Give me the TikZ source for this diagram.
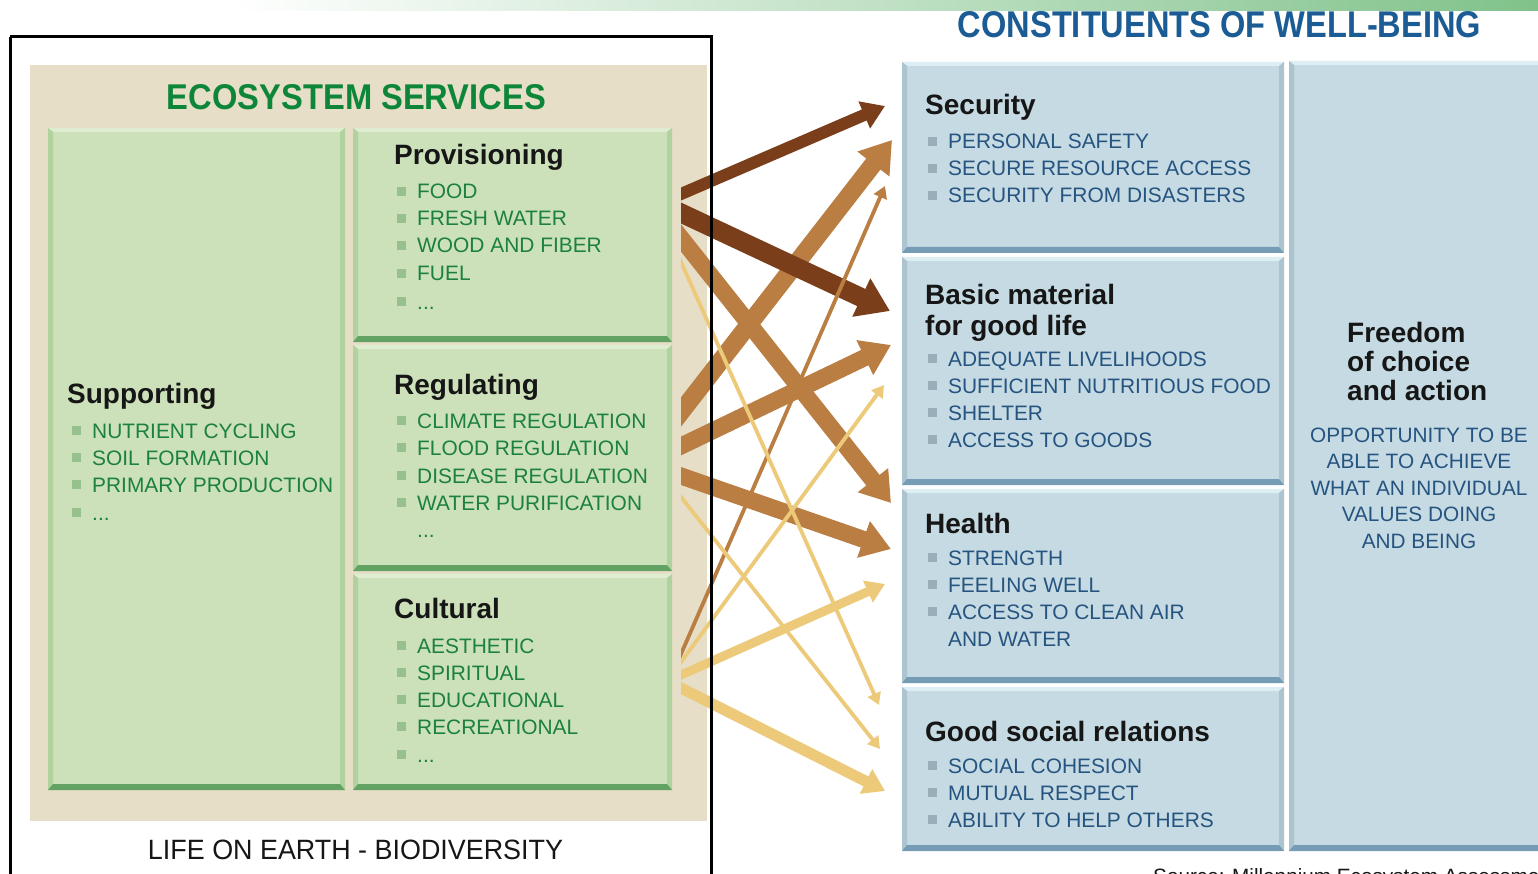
\documentclass[tikz,border=0pt]{standalone}
\usepackage{fontspec}
\setmainfont{Liberation Sans}
\usetikzlibrary{arrows.meta}
\definecolor{stripgreen}{RGB}{128,194,138}
\definecolor{beige}{RGB}{230,222,198}
\definecolor{gfill}{RGB}{204,225,185}
\definecolor{gtop}{RGB}{222,237,208}
\definecolor{gside}{RGB}{176,210,158}
\definecolor{gbot}{RGB}{98,163,100}
\definecolor{gbul}{RGB}{150,193,140}
\definecolor{gtext}{RGB}{28,128,62}
\definecolor{gtitle}{RGB}{14,134,58}
\definecolor{bfill}{RGB}{197,218,226}
\definecolor{btop}{RGB}{222,238,245}
\definecolor{bside}{RGB}{172,196,207}
\definecolor{bbot}{RGB}{118,155,180}
\definecolor{bbul}{RGB}{152,174,184}
\definecolor{btext}{RGB}{38,84,128}
\definecolor{btitle}{RGB}{28,92,148}
\definecolor{hdark}{RGB}{22,22,22}
\definecolor{adark}{RGB}{122,62,26}
\definecolor{amed}{RGB}{186,126,66}
\definecolor{ayel}{RGB}{236,202,122}

\newcommand\bevbox[9]{%
 \fill[#5] (#1,#2) rectangle (#3,#4);
 \fill[#6] (#1,#2) -- (#3,#2) -- ({#3-5},{#2+4}) -- ({#1+5},{#2+4}) -- cycle;
 \fill[#7] (#1,#2) -- ({#1+5},{#2+4}) -- ({#1+5},{#4-6}) -- (#1,#4) -- cycle;
 \fill[#7] (#3,#2) -- ({#3-5},{#2+4}) -- ({#3-5},{#4-6}) -- (#3,#4) -- cycle;
 \fill[#8] (#1,#4) -- ({#1+5},{#4-6}) -- ({#3-5},{#4-6}) -- (#3,#4) -- cycle;
 \coordinate (#9) at ({(#1+#3)/2},{(#2+#4)/2});
}
\newcommand\gitm[4]{%
 \fill[gbul] ({#2-20},{#3-12}) rectangle ++(9,9);
 \node[gitem] (#1) at (#2,#3) {#4};}
\newcommand\bitm[4]{%
 \fill[bbul] ({#2-20},{#3-12}) rectangle ++(9,9);
 \node[bitem] (#1) at (#2,#3) {#4};}

\begin{document}
\begin{tikzpicture}[x=1pt,y=-1pt,
  hd/.style={anchor=base west,inner sep=0pt,text=hdark,font=\fontsize{28}{30}\bfseries},
  gitem/.style={anchor=base west,inner sep=0pt,text=gtext,font=\fontsize{20.9}{24}\selectfont},
  bitem/.style={anchor=base west,inner sep=0pt,text=btext,font=\fontsize{20.9}{24}\selectfont},
  bctr/.style={anchor=base,inner sep=0pt,text=btext,font=\fontsize{20.8}{24}\selectfont},
  arr/.style={-{Triangle[length=7pt 1.3,width=7pt 1.75]},shorten <=-14pt},
  thin/.style={line width=3.8pt},
  ]
\useasboundingbox (0,0) rectangle (1538,874);
\fill[white] (0,0) rectangle (1538,874);
\shade[left color=white,right color=stripgreen] (230,0) rectangle (1538,11);

% ---------- left panel ----------
\fill[beige] (30,65) rectangle (707,821);
\node[anchor=base,inner sep=0pt,text=gtitle] (estitle) at (356.5,110)
  {\resizebox{379pt}{25pt}{\bfseries ECOSYSTEM SERVICES}};

\bevbox{48}{128}{345}{790}{gfill}{gtop}{gside}{gbot}{sup}
\bevbox{353}{128}{672}{342}{gfill}{gtop}{gside}{gbot}{prov}
\bevbox{353}{345}{672}{571}{gfill}{gtop}{gside}{gbot}{reg}
\bevbox{353}{574}{672}{790}{gfill}{gtop}{gside}{gbot}{cult}

\node[hd] (suphd) at (67,403) {Supporting};
\gitm{s1}{92}{438}{NUTRIENT CYCLING}
\gitm{s2}{92}{465}{SOIL FORMATION}
\gitm{s3}{92}{492}{PRIMARY PRODUCTION}
\gitm{s4}{92}{520}{...}

\node[hd] (provhd) at (394,165) {Provisioning};
\gitm{p1}{417}{199}{FOOD}
\gitm{p2}{417}{226}{FRESH WATER}
\gitm{p3}{417}{253}{WOOD AND FIBER}
\gitm{p4}{417}{281}{FUEL}
\gitm{p5}{417}{309}{...}

\node[hd] (reghd) at (394,394) {Regulating};
\gitm{r1}{417}{428}{CLIMATE REGULATION}
\gitm{r2}{417}{455}{FLOOD REGULATION}
\gitm{r3}{417}{483}{DISEASE REGULATION}
\gitm{r4}{417}{510}{WATER PURIFICATION}
\node[gitem] (r5) at (417,537) {...};

\node[hd] (culthd) at (394,618) {Cultural};
\gitm{c1}{417}{653}{AESTHETIC}
\gitm{c2}{417}{680}{SPIRITUAL}
\gitm{c3}{417}{707}{EDUCATIONAL}
\gitm{c4}{417}{734}{RECREATIONAL}
\gitm{c5}{417}{762}{...}

\node[anchor=base,inner sep=0pt,text=hdark] (life) at (355.5,859)
  {\resizebox{415pt}{19.5pt}{LIFE ON EARTH - BIODIVERSITY}};

% ---------- right panel ----------
\node[anchor=base,inner sep=0pt,text=btitle] (cwtitle) at (1219.5,38)
  {\resizebox{523pt}{26pt}{\bfseries CONSTITUENTS OF WELL-BEING}};

\bevbox{902}{62}{1284}{253}{bfill}{btop}{bside}{bbot}{sec}
\bevbox{902}{257}{1284}{485}{bfill}{btop}{bside}{bbot}{bas}
\bevbox{902}{489}{1284}{683}{bfill}{btop}{bside}{bbot}{hea}
\bevbox{902}{687}{1284}{851}{bfill}{btop}{bside}{bbot}{soc}
\bevbox{1289}{61}{1548}{851}{bfill}{btop}{bside}{bbot}{free}

\node[hd] (sechd) at (925,115) {Security};
\bitm{e1}{948}{149}{PERSONAL SAFETY}
\bitm{e2}{948}{176}{SECURE RESOURCE ACCESS}
\bitm{e3}{948}{203}{SECURITY FROM DISASTERS}

\node[hd] (bashd) at (925,305) {Basic material};
\node[hd] (bashdb) at (925,335) {for good life};
\bitm{b1}{948}{366}{ADEQUATE LIVELIHOODS}
\bitm{b2}{948}{393}{SUFFICIENT NUTRITIOUS FOOD}
\bitm{b3}{948}{420}{SHELTER}
\bitm{b4}{948}{447}{ACCESS TO GOODS}

\node[hd] (heahd) at (925,533) {Health};
\bitm{h1}{948}{565}{STRENGTH}
\bitm{h2}{948}{592}{FEELING WELL}
\bitm{h3}{948}{619}{ACCESS TO CLEAN AIR}
\node[bitem] (h4) at (948,646) {AND WATER};

\node[hd] (sochd) at (925,741) {Good social relations};
\bitm{o1}{948}{773}{SOCIAL COHESION}
\bitm{o2}{948}{800}{MUTUAL RESPECT}
\bitm{o3}{948}{827}{ABILITY TO HELP OTHERS}

\node[hd] (frhd1) at (1347,342) {Freedom};
\node[hd] (frhd2) at (1347,371) {of choice};
\node[hd] (frhd3) at (1347,400) {and action};
\node[bctr] (f1) at (1419,442) {OPPORTUNITY TO BE};
\node[bctr] (f2) at (1419,468.5) {ABLE TO ACHIEVE};
\node[bctr] (f3) at (1419,495) {WHAT AN INDIVIDUAL};
\node[bctr] (f4) at (1419,521.5) {VALUES DOING};
\node[bctr] (f5) at (1419,548) {AND BEING};

\node[anchor=base west,inner sep=0pt,text=hdark,font=\fontsize{20.7}{24}\selectfont]
  (src) at (1153,883) {Source: Millennium Ecosystem Assessment};

% ---------- arrows ----------
\coordinate (ps) at (681,194);  \coordinate (pb) at (681,213);
\coordinate (ph) at (681,238);  \coordinate (po) at (681,262);
\coordinate (rs) at (681,412);  \coordinate (rb) at (681,446);
\coordinate (rh) at (681,476);  \coordinate (ro) at (681,497);
\coordinate (cs) at (681,654);  \coordinate (cb) at (681,662);
\coordinate (ch) at (681,675);  \coordinate (co) at (681,688);
\coordinate (tps) at (885,106); \coordinate (tpb) at (890,311);
\coordinate (tph) at (891,503); \coordinate (tpo) at (879,705);
\coordinate (trs) at (892,140); \coordinate (trb) at (891,345);
\coordinate (trh) at (891,549); \coordinate (tro) at (880,749);
\coordinate (tcs) at (885,186); \coordinate (tcb) at (884,385);
\coordinate (tch) at (885,584); \coordinate (tco) at (885,791);
\begin{scope}
\clip (681,0) rectangle (1538,874);
\draw[arr,amed,line width=17pt] (ph) -- (tph);
\draw[arr,amed,line width=18pt] (rs) -- (trs);
\draw[arr,amed,line width=17pt] (rb) -- (trb);
\draw[arr,amed,line width=17pt] (rh) -- (trh);
\draw[arr,adark,line width=12pt] (ps) -- (tps);
\draw[arr,adark,line width=19pt] (pb) -- (tpb);
\draw[arr,amed,thin] (cs) -- (tcs);
\draw[arr,ayel,thin] (po) -- (tpo);
\draw[arr,ayel,thin] (ro) -- (tro);
\draw[arr,ayel,thin] (cb) -- (tcb);
\draw[arr,ayel,line width=9pt] (ch) -- (tch);
\draw[arr,ayel,line width=11pt] (co) -- (tco);
\end{scope}

% ---------- frame ----------
\draw[black,line width=3pt] (10,37) -- (711,37) -- (711,880);
\draw[black,line width=3pt] (10,37) -- (10,880);
\end{tikzpicture}
\end{document}
